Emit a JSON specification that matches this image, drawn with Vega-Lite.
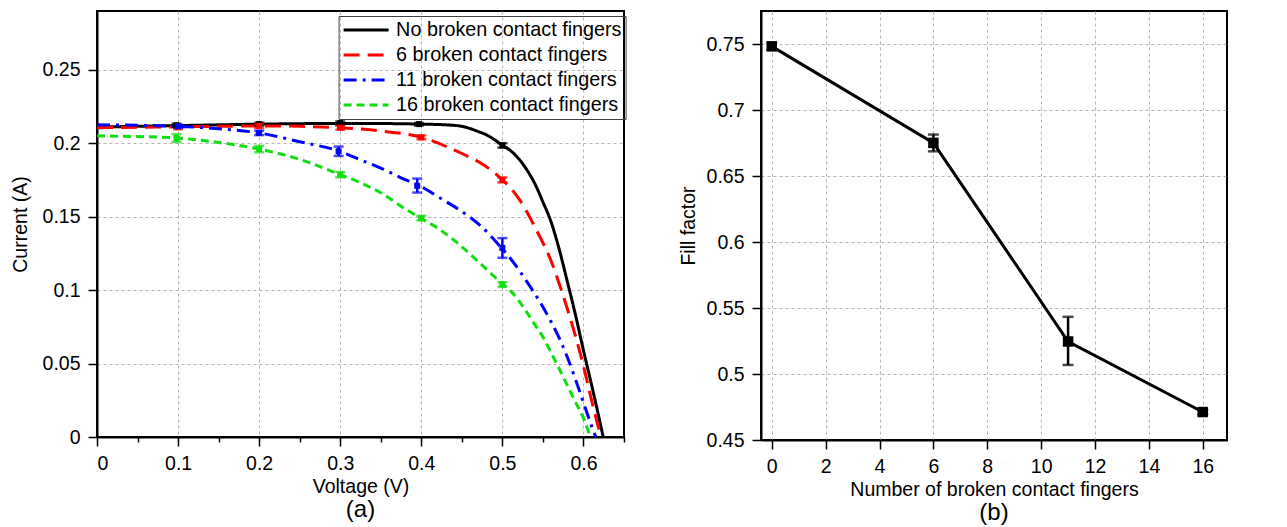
{
  "$schema": "https://vega.github.io/schema/vega-lite/v6.json",
  "background": "white",
  "padding": {"left": 9, "top": 10, "right": 5, "bottom": 3},
  "config": {
    "font": "Liberation Sans",
    "view": {"stroke": "black", "strokeWidth": 2},
    "axis": {
      "domainColor": "black", "domainWidth": 2,
      "tickColor": "black", "tickWidth": 1.5,
      "labelFont": "Liberation Sans", "labelFontSize": 19.5, "labelColor": "black", "labelPadding": 8,
      "titleFont": "Liberation Sans", "titleFontSize": 19.5, "titleFontWeight": "normal", "titleColor": "black",
      "gridColor": "#b4b4b4", "gridDash": [3, 3], "gridWidth": 1
    },
    "legend": {
      "labelFont": "Liberation Sans", "labelFontSize": 19.8, "labelColor": "black", "labelLimit": 400
    },
    "title": {"font": "Liberation Sans", "fontSize": 24, "fontWeight": "normal", "color": "black"}
  },
  "datasets": {
    "curves": [
      {"series": "No broken contact fingers", "V": 0, "I": 0.2110},
      {"series": "No broken contact fingers", "V": 0.05, "I": 0.2115},
      {"series": "No broken contact fingers", "V": 0.1, "I": 0.2120},
      {"series": "No broken contact fingers", "V": 0.15, "I": 0.2125},
      {"series": "No broken contact fingers", "V": 0.2, "I": 0.2130},
      {"series": "No broken contact fingers", "V": 0.25, "I": 0.2133},
      {"series": "No broken contact fingers", "V": 0.3, "I": 0.2135},
      {"series": "No broken contact fingers", "V": 0.35, "I": 0.2134},
      {"series": "No broken contact fingers", "V": 0.4, "I": 0.2130},
      {"series": "No broken contact fingers", "V": 0.43, "I": 0.2125},
      {"series": "No broken contact fingers", "V": 0.45, "I": 0.2115},
      {"series": "No broken contact fingers", "V": 0.47, "I": 0.2080},
      {"series": "No broken contact fingers", "V": 0.48, "I": 0.2058},
      {"series": "No broken contact fingers", "V": 0.49, "I": 0.2025},
      {"series": "No broken contact fingers", "V": 0.5, "I": 0.1985},
      {"series": "No broken contact fingers", "V": 0.51, "I": 0.1950},
      {"series": "No broken contact fingers", "V": 0.52, "I": 0.1895},
      {"series": "No broken contact fingers", "V": 0.53, "I": 0.1820},
      {"series": "No broken contact fingers", "V": 0.54, "I": 0.1725},
      {"series": "No broken contact fingers", "V": 0.55, "I": 0.1600},
      {"series": "No broken contact fingers", "V": 0.56, "I": 0.1465},
      {"series": "No broken contact fingers", "V": 0.57, "I": 0.1280},
      {"series": "No broken contact fingers", "V": 0.58, "I": 0.1060},
      {"series": "No broken contact fingers", "V": 0.59, "I": 0.0835},
      {"series": "No broken contact fingers", "V": 0.6, "I": 0.0590},
      {"series": "No broken contact fingers", "V": 0.61, "I": 0.0355},
      {"series": "No broken contact fingers", "V": 0.62, "I": 0.0110},
      {"series": "No broken contact fingers", "V": 0.6243, "I": 0},
      {"series": "6 broken contact fingers", "V": 0, "I": 0.2105},
      {"series": "6 broken contact fingers", "V": 0.05, "I": 0.2108},
      {"series": "6 broken contact fingers", "V": 0.1, "I": 0.2112},
      {"series": "6 broken contact fingers", "V": 0.15, "I": 0.2115},
      {"series": "6 broken contact fingers", "V": 0.2, "I": 0.2118},
      {"series": "6 broken contact fingers", "V": 0.25, "I": 0.2115},
      {"series": "6 broken contact fingers", "V": 0.3, "I": 0.2105},
      {"series": "6 broken contact fingers", "V": 0.33, "I": 0.2095},
      {"series": "6 broken contact fingers", "V": 0.35, "I": 0.2083},
      {"series": "6 broken contact fingers", "V": 0.4, "I": 0.2040},
      {"series": "6 broken contact fingers", "V": 0.45, "I": 0.1930},
      {"series": "6 broken contact fingers", "V": 0.47, "I": 0.1875},
      {"series": "6 broken contact fingers", "V": 0.49, "I": 0.1800},
      {"series": "6 broken contact fingers", "V": 0.5, "I": 0.1750},
      {"series": "6 broken contact fingers", "V": 0.51, "I": 0.1695},
      {"series": "6 broken contact fingers", "V": 0.52, "I": 0.1625},
      {"series": "6 broken contact fingers", "V": 0.53, "I": 0.1535},
      {"series": "6 broken contact fingers", "V": 0.54, "I": 0.1430},
      {"series": "6 broken contact fingers", "V": 0.55, "I": 0.1322},
      {"series": "6 broken contact fingers", "V": 0.56, "I": 0.1200},
      {"series": "6 broken contact fingers", "V": 0.57, "I": 0.1045},
      {"series": "6 broken contact fingers", "V": 0.58, "I": 0.0875},
      {"series": "6 broken contact fingers", "V": 0.59, "I": 0.0690},
      {"series": "6 broken contact fingers", "V": 0.6, "I": 0.0485},
      {"series": "6 broken contact fingers", "V": 0.61, "I": 0.0250},
      {"series": "6 broken contact fingers", "V": 0.6215, "I": 0},
      {"series": "11 broken contact fingers", "V": 0, "I": 0.2125},
      {"series": "11 broken contact fingers", "V": 0.05, "I": 0.2122},
      {"series": "11 broken contact fingers", "V": 0.1, "I": 0.2115},
      {"series": "11 broken contact fingers", "V": 0.15, "I": 0.2098},
      {"series": "11 broken contact fingers", "V": 0.2, "I": 0.2070},
      {"series": "11 broken contact fingers", "V": 0.25, "I": 0.2010},
      {"series": "11 broken contact fingers", "V": 0.3, "I": 0.1943},
      {"series": "11 broken contact fingers", "V": 0.32, "I": 0.1898},
      {"series": "11 broken contact fingers", "V": 0.35, "I": 0.1831},
      {"series": "11 broken contact fingers", "V": 0.38, "I": 0.1752},
      {"series": "11 broken contact fingers", "V": 0.4, "I": 0.1705},
      {"series": "11 broken contact fingers", "V": 0.42, "I": 0.1637},
      {"series": "11 broken contact fingers", "V": 0.45, "I": 0.1535},
      {"series": "11 broken contact fingers", "V": 0.47, "I": 0.1453},
      {"series": "11 broken contact fingers", "V": 0.5, "I": 0.1280},
      {"series": "11 broken contact fingers", "V": 0.51, "I": 0.1215},
      {"series": "11 broken contact fingers", "V": 0.52, "I": 0.1140},
      {"series": "11 broken contact fingers", "V": 0.53, "I": 0.1060},
      {"series": "11 broken contact fingers", "V": 0.54, "I": 0.0975},
      {"series": "11 broken contact fingers", "V": 0.55, "I": 0.0885},
      {"series": "11 broken contact fingers", "V": 0.56, "I": 0.0785},
      {"series": "11 broken contact fingers", "V": 0.57, "I": 0.0675},
      {"series": "11 broken contact fingers", "V": 0.58, "I": 0.0545},
      {"series": "11 broken contact fingers", "V": 0.59, "I": 0.0395},
      {"series": "11 broken contact fingers", "V": 0.6, "I": 0.0235},
      {"series": "11 broken contact fingers", "V": 0.61, "I": 0.0075},
      {"series": "11 broken contact fingers", "V": 0.6152, "I": 0},
      {"series": "16 broken contact fingers", "V": 0, "I": 0.2050},
      {"series": "16 broken contact fingers", "V": 0.05, "I": 0.2045},
      {"series": "16 broken contact fingers", "V": 0.1, "I": 0.2035},
      {"series": "16 broken contact fingers", "V": 0.15, "I": 0.2005},
      {"series": "16 broken contact fingers", "V": 0.2, "I": 0.1960},
      {"series": "16 broken contact fingers", "V": 0.25, "I": 0.1890},
      {"series": "16 broken contact fingers", "V": 0.3, "I": 0.1786},
      {"series": "16 broken contact fingers", "V": 0.33, "I": 0.1718},
      {"series": "16 broken contact fingers", "V": 0.35, "I": 0.1663},
      {"series": "16 broken contact fingers", "V": 0.38, "I": 0.1553},
      {"series": "16 broken contact fingers", "V": 0.4, "I": 0.1487},
      {"series": "16 broken contact fingers", "V": 0.42, "I": 0.1422},
      {"series": "16 broken contact fingers", "V": 0.45, "I": 0.1295},
      {"series": "16 broken contact fingers", "V": 0.47, "I": 0.1195},
      {"series": "16 broken contact fingers", "V": 0.5, "I": 0.1042},
      {"series": "16 broken contact fingers", "V": 0.51, "I": 0.0995},
      {"series": "16 broken contact fingers", "V": 0.52, "I": 0.0930},
      {"series": "16 broken contact fingers", "V": 0.53, "I": 0.0850},
      {"series": "16 broken contact fingers", "V": 0.54, "I": 0.0765},
      {"series": "16 broken contact fingers", "V": 0.55, "I": 0.0680},
      {"series": "16 broken contact fingers", "V": 0.56, "I": 0.0575},
      {"series": "16 broken contact fingers", "V": 0.57, "I": 0.0465},
      {"series": "16 broken contact fingers", "V": 0.58, "I": 0.0352},
      {"series": "16 broken contact fingers", "V": 0.59, "I": 0.0240},
      {"series": "16 broken contact fingers", "V": 0.6, "I": 0.0128},
      {"series": "16 broken contact fingers", "V": 0.6085, "I": 0}
    ],
    "errs": [
      {"series": "No broken contact fingers", "V": 0.098, "I": 0.2122, "lo": 0.2112, "hi": 0.2132},
      {"series": "No broken contact fingers", "V": 0.2, "I": 0.2130, "lo": 0.2120, "hi": 0.2140},
      {"series": "No broken contact fingers", "V": 0.3, "I": 0.2137, "lo": 0.2125, "hi": 0.2148},
      {"series": "No broken contact fingers", "V": 0.397, "I": 0.2130, "lo": 0.2120, "hi": 0.2138},
      {"series": "No broken contact fingers", "V": 0.5, "I": 0.1985, "lo": 0.1970, "hi": 0.2000},
      {"series": "6 broken contact fingers", "V": 0.1, "I": 0.2110, "lo": 0.2095, "hi": 0.2125},
      {"series": "6 broken contact fingers", "V": 0.2, "I": 0.2118, "lo": 0.2103, "hi": 0.2133},
      {"series": "6 broken contact fingers", "V": 0.3, "I": 0.2105, "lo": 0.2092, "hi": 0.2118},
      {"series": "6 broken contact fingers", "V": 0.4, "I": 0.2040, "lo": 0.2027, "hi": 0.2053},
      {"series": "6 broken contact fingers", "V": 0.5, "I": 0.1750, "lo": 0.1733, "hi": 0.1767},
      {"series": "11 broken contact fingers", "V": 0.1, "I": 0.2115, "lo": 0.2105, "hi": 0.2125},
      {"series": "11 broken contact fingers", "V": 0.2, "I": 0.2070, "lo": 0.2055, "hi": 0.2085},
      {"series": "11 broken contact fingers", "V": 0.298, "I": 0.1945, "lo": 0.1913, "hi": 0.1977},
      {"series": "11 broken contact fingers", "V": 0.395, "I": 0.1710, "lo": 0.1664, "hi": 0.1759},
      {"series": "11 broken contact fingers", "V": 0.5, "I": 0.1287, "lo": 0.1220, "hi": 0.1354},
      {"series": "16 broken contact fingers", "V": 0.098, "I": 0.2035, "lo": 0.2008, "hi": 0.2062},
      {"series": "16 broken contact fingers", "V": 0.2, "I": 0.1960, "lo": 0.1938, "hi": 0.1982},
      {"series": "16 broken contact fingers", "V": 0.3, "I": 0.1786, "lo": 0.1768, "hi": 0.1804},
      {"series": "16 broken contact fingers", "V": 0.4, "I": 0.1490, "lo": 0.1475, "hi": 0.1505},
      {"series": "16 broken contact fingers", "V": 0.5, "I": 0.1038, "lo": 0.1022, "hi": 0.1054}
    ],
    "ff": [
      {"n": 0, "ff": 0.7485, "lo": 0.7460, "hi": 0.7510},
      {"n": 6, "ff": 0.6753, "lo": 0.6689, "hi": 0.6816},
      {"n": 11, "ff": 0.5247, "lo": 0.5069, "hi": 0.5434},
      {"n": 16, "ff": 0.4712, "lo": 0.4695, "hi": 0.4728}
    ]
  },
  "hconcat": [
    {
      "width": 527,
      "height": 426,
      "title": {"text": "(a)", "orient": "bottom", "anchor": "middle", "offset": 2},
      "layer": [
        {
          "data": {"name": "curves"},
          "mark": {"type": "line", "strokeWidth": 3, "interpolate": "monotone"},
          "encoding": {
            "x": {
              "field": "V", "type": "quantitative",
              "scale": {"domain": [0, 0.65], "nice": false, "zero": false},
              "axis": {
                "title": "Voltage (V)", "titlePadding": 5,
                "values": [0, 0.05, 0.1, 0.15, 0.2, 0.25, 0.3, 0.35, 0.4, 0.45, 0.5, 0.55, 0.6, 0.65],
                "labelExpr": "round(datum.value*20)%2==1 ? '' : format(datum.value, '~g')",
                "tickSize": {"condition": {"test": "round(datum.value*20)%2==1", "value": 5}, "value": 9},
                "gridOpacity": {"condition": {"test": "round(datum.value*20)%2==1", "value": 0}, "value": 1}
              }
            },
            "y": {
              "field": "I", "type": "quantitative",
              "scale": {"domain": [0, 0.29], "nice": false, "zero": false},
              "axis": {
                "title": "Current (A)", "titlePadding": 11.5,
                "values": [0, 0.025, 0.05, 0.075, 0.1, 0.125, 0.15, 0.175, 0.2, 0.225, 0.25, 0.275],
                "labelExpr": "round(datum.value*40)%2==1 ? '' : format(datum.value, '~g')",
                "tickSize": {"condition": {"test": "round(datum.value*40)%2==1", "value": 5}, "value": 9},
                "gridOpacity": {"condition": {"test": "round(datum.value*40)%2==1", "value": 0}, "value": 1}
              }
            },
            "color": {
              "field": "series", "type": "nominal",
              "scale": {
                "domain": ["No broken contact fingers", "6 broken contact fingers", "11 broken contact fingers", "16 broken contact fingers"],
                "range": ["#000000", "#ff0000", "#0000ff", "#11dd11"]
              },
              "legend": {
                "title": null, "orient": "none", "legendX": 241.6, "legendY": 5,
                "strokeColor": "#404040", "padding": 3.5,
                "symbolType": "M-1,0H4", "symbolSize": 324, "symbolStrokeWidth": 3,
                "rowPadding": 4, "labelOffset": 33
              }
            },
            "strokeDash": {
              "field": "series", "type": "nominal",
              "scale": {
                "domain": ["No broken contact fingers", "6 broken contact fingers", "11 broken contact fingers", "16 broken contact fingers"],
                "range": [[1, 0], [16, 8], [13, 6, 3, 6], [8, 5]]
              },
              "legend": {
                "title": null, "orient": "none", "legendX": 241.6, "legendY": 5,
                "strokeColor": "#404040", "padding": 3.5,
                "symbolType": "M-1,0H4", "symbolSize": 324, "symbolStrokeWidth": 3,
                "rowPadding": 4, "labelOffset": 33
              }
            }
          }
        },
        {
          "data": {"name": "errs"},
          "mark": {"type": "rule", "strokeWidth": 2.5},
          "encoding": {
            "x": {"field": "V", "type": "quantitative"},
            "y": {"field": "lo", "type": "quantitative"},
            "y2": {"field": "hi"},
            "stroke": {
              "field": "series", "type": "nominal", "legend": null,
              "scale": {
                "domain": ["No broken contact fingers", "6 broken contact fingers", "11 broken contact fingers", "16 broken contact fingers"],
                "range": ["#000000", "#ff0000", "#0000ff", "#11dd11"]
              }
            }
          }
        },
        {
          "data": {"name": "errs"},
          "mark": {"type": "tick", "orient": "horizontal", "size": 10, "thickness": 2.5},
          "encoding": {
            "x": {"field": "V", "type": "quantitative"},
            "y": {"field": "lo", "type": "quantitative"},
            "fill": {
              "field": "series", "type": "nominal", "legend": null,
              "scale": {
                "domain": ["No broken contact fingers", "6 broken contact fingers", "11 broken contact fingers", "16 broken contact fingers"],
                "range": ["#000000", "#ff0000", "#0000ff", "#11dd11"]
              }
            }
          }
        },
        {
          "data": {"name": "errs"},
          "mark": {"type": "tick", "orient": "horizontal", "size": 10, "thickness": 2.5},
          "encoding": {
            "x": {"field": "V", "type": "quantitative"},
            "y": {"field": "hi", "type": "quantitative"},
            "fill": {"field": "series", "type": "nominal", "legend": null}
          }
        },
        {
          "data": {"name": "errs"},
          "mark": {"type": "square", "size": 36, "filled": true, "opacity": 1},
          "encoding": {
            "x": {"field": "V", "type": "quantitative"},
            "y": {"field": "I", "type": "quantitative"},
            "fill": {"field": "series", "type": "nominal", "legend": null}
          }
        }
      ]
    },
    {
      "width": 466,
      "height": 429,
      "data": {"name": "ff"},
      "title": {"text": "(b)", "orient": "bottom", "anchor": "middle", "offset": 2},
      "layer": [
        {
          "mark": {"type": "line", "strokeWidth": 3, "color": "black"},
          "encoding": {
            "x": {
              "field": "n", "type": "quantitative",
              "scale": {"domain": [-0.4, 16.9], "nice": false, "zero": false},
              "axis": {
                "title": "Number of broken contact fingers", "titlePadding": 5,
                "values": [0, 1, 2, 3, 4, 5, 6, 7, 8, 9, 10, 11, 12, 13, 14, 15, 16],
                "labelExpr": "datum.value%2==1 ? '' : format(datum.value, 'd')",
                "tickSize": {"condition": {"test": "datum.value%2==1", "value": 5}, "value": 9},
                "gridOpacity": {"condition": {"test": "datum.value%2==1", "value": 0}, "value": 1}
              }
            },
            "y": {
              "field": "ff", "type": "quantitative",
              "scale": {"domain": [0.45, 0.7753], "nice": false, "zero": false},
              "axis": {
                "title": "Fill factor", "titlePadding": 7.5,
                "values": [0.45, 0.475, 0.5, 0.525, 0.55, 0.575, 0.6, 0.625, 0.65, 0.675, 0.7, 0.725, 0.75],
                "labelExpr": "round(datum.value*40)%2==1 ? '' : format(datum.value, '~g')",
                "tickSize": {"condition": {"test": "round(datum.value*40)%2==1", "value": 5}, "value": 9},
                "gridOpacity": {"condition": {"test": "round(datum.value*40)%2==1", "value": 0}, "value": 1}
              }
            }
          }
        },
        {
          "mark": {"type": "rule", "strokeWidth": 2.5, "color": "black"},
          "encoding": {
            "x": {"field": "n", "type": "quantitative"},
            "y": {"field": "lo", "type": "quantitative"},
            "y2": {"field": "hi"}
          }
        },
        {
          "mark": {"type": "tick", "orient": "horizontal", "size": 11, "thickness": 2.5, "color": "black"},
          "encoding": {
            "x": {"field": "n", "type": "quantitative"},
            "y": {"field": "lo", "type": "quantitative"}
          }
        },
        {
          "mark": {"type": "tick", "orient": "horizontal", "size": 11, "thickness": 2.5, "color": "black"},
          "encoding": {
            "x": {"field": "n", "type": "quantitative"},
            "y": {"field": "hi", "type": "quantitative"}
          }
        },
        {
          "mark": {"type": "square", "size": 110, "filled": true, "color": "black", "opacity": 1},
          "encoding": {
            "x": {"field": "n", "type": "quantitative"},
            "y": {"field": "ff", "type": "quantitative"}
          }
        }
      ]
    }
  ],
  "spacing": 51
}
